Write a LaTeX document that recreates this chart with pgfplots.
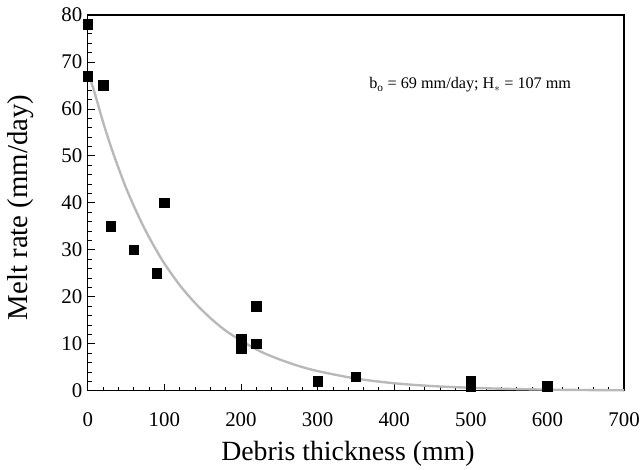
\documentclass[border=0pt]{standalone}
\usepackage{fontspec}
\setmainfont{Liberation Serif}
\usepackage{pgfplots}
\pgfplotsset{compat=1.18}

\begin{document}
\begin{tikzpicture}
\begin{axis}[
    scale only axis,
    at={(0,0)}, anchor=south west,
    width=538bp, height=377bp,
    xmin=0, xmax=700, ymin=0, ymax=80,
    xtick={0,100,...,700}, ytick={0,10,...,80},
    minor x tick num=4, minor y tick num=4,
    tick align=inside,
    xtick pos=bottom, ytick pos=left,
    major tick length=7bp, minor tick length=4bp,
    axis line style={line width=1.2pt},
    every tick/.style={black, line width=0.8pt},
    /pgf/number format/assume math mode=true,
    tick label style={font=\fontsize{21}{23}\selectfont},
    xticklabel style={anchor=north, yshift=-18bp},
    yticklabel style={xshift=-2bp},
    xlabel style={font=\fontsize{28}{30}\selectfont, at={(axis description cs:0.5,0)}, anchor=base, yshift=-70bp, xshift=-8bp},
    ylabel style={font=\fontsize{29}{31}\selectfont, at={(axis description cs:0,0.5)}, anchor=base, yshift=60bp, xshift=-4.5bp},
    xlabel={Debris thickness (mm)},
    ylabel={Melt rate (mm/day)},
    clip=false,
]
\addplot[gray!55, line width=2.4pt, smooth] coordinates {
(3,66.5)(10,62.9)(20,57.2)(30,52.1)(40,47.5)(50,43.2)(60,39.4)(70,35.9)(80,32.7)(90,29.8)
(100,27.1)(120,22.5)(140,18.7)(160,15.5)(180,12.8)(200,10.7)(225,8.4)(250,6.7)(275,5.3)
(300,4.2)(350,2.6)(400,1.6)(450,1.0)(500,0.64)(550,0.40)(600,0.25)(650,0.16)(700,0.10)};
\addplot[only marks, mark=square*, mark size=4.8bp, black] coordinates {
(0,78)(0,67)(20,65)(30,35)(60,30)(90,25)(100,40)(200,11)(200,9)(220,18)(220,10)
(300,2)(350,3)(500,2)(500,1)(600,1)};
\node[font=\fontsize{16.3}{18}\selectfont, anchor=base west] at (axis cs:363,64.3)
    {b\textsubscript{o} = 69 mm/day; H\textsubscript{$*$} = 107 mm};
\end{axis}
\path (-88bp,-78bp) rectangle (555bp,392bp);
\end{tikzpicture}
\end{document}
